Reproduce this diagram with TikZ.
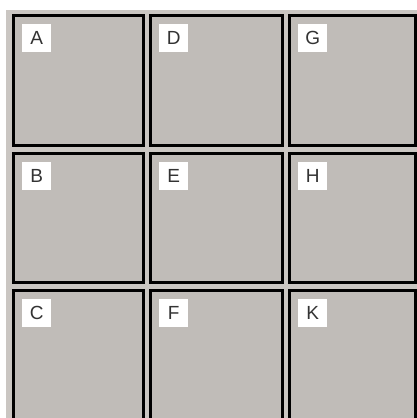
\documentclass[tikz,border=0pt]{standalone}
\usepackage{fontspec}
\setmainfont{Liberation Sans}
\definecolor{fabric}{RGB}{192,188,184}
\definecolor{fabricgap}{RGB}{202,198,194}
\begin{document}
\begin{tikzpicture}[x=1pt,y=-1pt,
  panel/.style={draw=black,line width=3pt,fill=fabric,inner sep=0pt,outer sep=0pt},
  tag/.style={fill=white,inner sep=0pt,minimum width=29pt,minimum height=28pt,
    anchor=north west,font=\fontsize{19}{19}\selectfont,text=black!80}]
\useasboundingbox (0,0) rectangle (417,418);
\clip (0,0) rectangle (417,418);
\fill[white] (0,0) rectangle (417,418);
\fill[fabricgap] (6,10) rectangle (417,418);
% panels: corners at line centres
\def\colA{13.5}\def\colAr{143}
\def\colD{150.5}\def\colDr{282}
\def\colG{289.5}\def\colGr{415}
\def\rowA{15.5}\def\rowAr{145}
\def\rowB{153.5}\def\rowBr{282}
\def\rowC{290.5}\def\rowCr{430}
\foreach \n/\l/\x/\xr/\y/\yr in {
  A/A/\colA/\colAr/\rowA/\rowAr,
  D/D/\colD/\colDr/\rowA/\rowAr,
  G/G/\colG/\colGr/\rowA/\rowAr,
  B/B/\colA/\colAr/\rowB/\rowBr,
  E/E/\colD/\colDr/\rowB/\rowBr,
  H/H/\colG/\colGr/\rowB/\rowBr,
  C/C/\colA/\colAr/\rowC/\rowCr,
  F/F/\colD/\colDr/\rowC/\rowCr,
  K/K/\colG/\colGr/\rowC/\rowCr}{
  \draw[panel] (\x,\y) rectangle (\xr,\yr);
  \node[tag] (tag\n) at ({\x+8.5},{\y+8.5}) {\l};
}
\end{tikzpicture}
\end{document}
